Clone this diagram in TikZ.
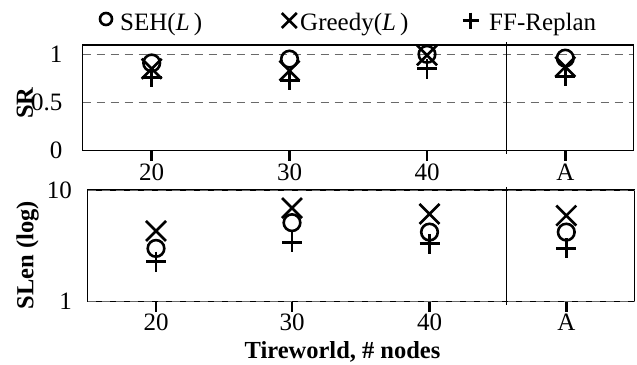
\documentclass[tikz,border=0pt]{standalone}
\usepackage{fontspec}
\setmainfont{Liberation Serif}

\begin{document}
\begin{tikzpicture}[
        x = 1pt,
        y = -1pt,
        declare function = {%
            sry(\v)   = 150.7 - 96.4*\v;
            sleny(\v) = 301.7 - 111.7*log10(\v);
        }
    ]

        \definecolor{gridgray}{RGB}{105,105,105}

        \tikzset{%
            panel/.style = {%
                draw,
                line width = 1.4pt
            },
            gridline/.style = {%
                draw         = gridgray,
                line width   = 1pt,
                dash pattern = on 8pt off 6pt
            },
            tickmark/.style  = {line width = 2.8pt},
            marker/.style    = {line width = 2.6pt},
            numlabel/.style  = {font = \fontsize{25}{30}\selectfont, inner sep = 0pt},
            axistitle/.style = {font = \bfseries\fontsize{24.5}{29}\selectfont, inner sep = 0pt}
        }

        \newcommand{\sehmark}[3]{\draw[marker] (#1,{#2}) circle (#3pt);}
        \newcommand{\greedymark}[3]{\draw[marker] ({#1-#3},{#2-#3}) -- ({#1+#3},{#2+#3}) ({#1-#3},{#2+#3}) -- ({#1+#3},{#2-#3});}
        \newcommand{\ffmark}[3]{\draw[marker] ({#1-#3},{#2}) -- ({#1+#3},{#2}) (#1,{#2-#3}) -- (#1,{#2+#3});}

        \useasboundingbox (0,0) rectangle (637,364);

        % Legend
        \sehmark{106}{19}{6}
        \node[numlabel, anchor = base west] (legendseh) at (120,30) {SEH(\textit{L}\,)};
        \greedymark{289.3}{20.5}{7.5}
        \node[numlabel, anchor = base west] (legendgreedy) at (300,30) {Greedy(\textit{L}\,)};
        \ffmark{470.7}{20.5}{8}
        \node[numlabel, anchor = base west] (legendff) at (489,30) {FF-Replan};

        % SR panel
        \draw[gridline] (82.7,{sry(1)}) -- (633.7,{sry(1)});
        \draw[gridline] (82.7,{sry(0.5)}) -- (633.7,{sry(0.5)});
        \draw[panel] (82.7,45) rectangle (633.7,150.7);
        \draw[line width = 1pt] (506.3,42) -- (506.3,154);

        \node[numlabel, anchor = east] (srone) at (62.5,{sry(1)}) {1};
        \node[numlabel, anchor = east] (srhalf) at (62.5,{sry(0.5)}) {0.5};
        \node[numlabel, anchor = east] (srzero) at (62.5,{sry(0)}) {0};
        \node[axistitle, rotate = 90] (srtitle) at (25,103) {SR};

        \foreach \x/\t [count = \i] in {151.7/20, 289.5/30, 427/40, 565.3/A} {
            \draw[tickmark] (\x,150.7) -- (\x,160.5);
            \node[numlabel, anchor = base] (srtick\i) at (\x,180.5) {\t};
        }

        \foreach \x/\s/\g/\f in {151.7/0.91/0.85/0.76, 289.5/0.95/0.83/0.73, 427/1.0/0.99/0.85, 565.3/0.96/0.87/0.77} {
            \sehmark{\x}{sry(\s)}{8.3}
            \greedymark{\x}{sry(\g)}{10}
            \ffmark{\x}{sry(\f)}{10}
        }

        % SLen panel
        \draw[panel] (87.7,190) rectangle (634.7,301.7);
        \draw[gridline] (87.7,{sleny(10)}) -- (634.7,{sleny(10)});
        \draw[gridline] (87.7,{sleny(1)}) -- (634.7,{sleny(1)});
        \draw[line width = 1pt] (506.3,187) -- (506.3,305);

        \node[numlabel, anchor = east] (slenten) at (72,{sleny(10)}) {10};
        \node[numlabel, anchor = east] (slenone) at (72,{sleny(1)}) {1};
        \node[axistitle, rotate = 90] (slentitle) at (27.5,255) {SLen (log)};

        \foreach \x/\t [count = \i] in {156/20, 292/30, 429.5/40, 566.3/A} {
            \draw[tickmark] (\x,301.7) -- (\x,311.5);
            \node[numlabel, anchor = base] (slentick\i) at (\x,330) {\t};
        }

        \foreach \x/\s/\g/\f in {156/3.0/4.3/2.28, 292/5.1/6.9/3.4, 429.5/4.2/6.1/3.3, 566.3/4.2/5.9/3.0} {
            \sehmark{\x}{sleny(\s)}{8.3}
            \greedymark{\x}{sleny(\g)}{10}
            \ffmark{\x}{sleny(\f)}{10}
        }

        \node[axistitle, anchor = base] (xtitle) at (342.5,358) {Tireworld, \# nodes};

    \end{tikzpicture}
\end{document}
